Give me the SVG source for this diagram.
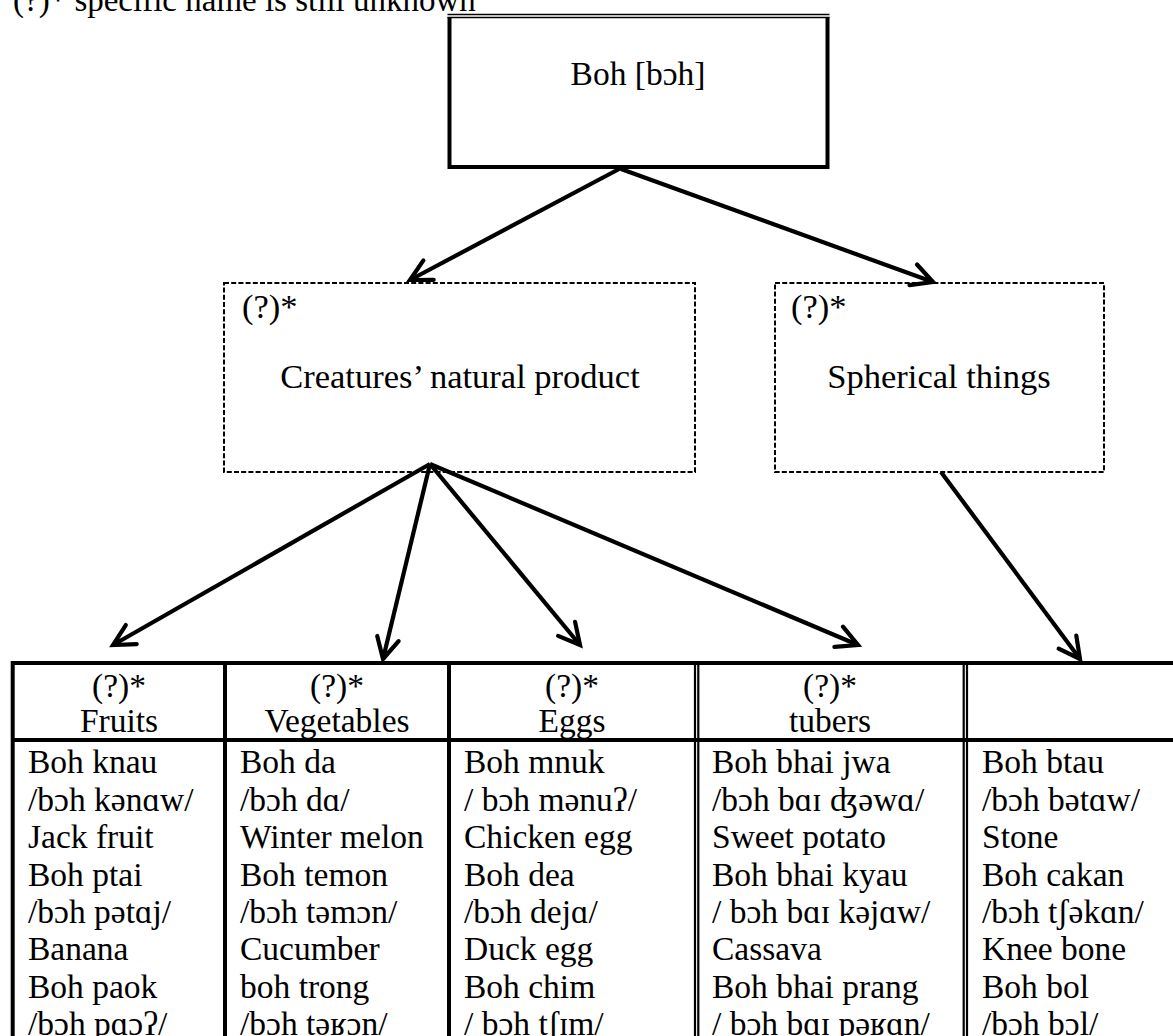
<svg xmlns="http://www.w3.org/2000/svg" width="1173" height="1036" viewBox="0 0 1173 1036">
<style>
  text { font-family: "Liberation Serif", "DejaVu Serif", serif; fill: #000; }
  .t { font-size: 33.5px; }
  .m { font-size: 34.5px; }
  .note { font-size: 33px; }
  .c { text-anchor: middle; }
  .dash { fill: #fff; stroke: #000; stroke-width: 2; stroke-dasharray: 5 2.2; }
  .thick { stroke: #000; stroke-width: 4; fill: none; }
  .thin { stroke: #000; stroke-width: 1.6; fill: none; }
  .dbl { stroke: #000; stroke-width: 2.2; fill: none; }
  .conn { stroke: #000; stroke-width: 4.2; fill: none; marker-end: url(#arr); }
</style>
<defs>
  <marker id="arr" markerUnits="userSpaceOnUse" orient="auto" overflow="visible" markerWidth="1" markerHeight="1" refX="0" refY="0">
    <path d="M-21,-11 L0,0 L-21,11" fill="none" stroke="#000" stroke-width="4.2" stroke-linecap="round" stroke-linejoin="miter"/>
  </marker>
</defs>
<rect width="1173" height="1036" fill="#fff"/>

<g id="note">
  <text class="note" x="13" y="10.5">(?)* specific name is still unknown</text>
</g>

<g id="node-boh">
  <line class="thin" x1="447.5" y1="14.5" x2="829.5" y2="14.5"/>
  <line class="thin" x1="447.5" y1="17.5" x2="829.5" y2="17.5"/>
  <path class="thick" d="M449.5,17 L449.5,167 L827.5,167 L827.5,17"/>
  <text class="t c" x="638" y="85">Boh [bɔh]</text>
</g>

<g id="node-creatures">
  <rect class="dash" x="224" y="283" width="471" height="189"/>
  <text class="m" x="242" y="318">(?)*</text>
  <text class="m c" x="460" y="388">Creatures’ natural product</text>
</g>

<g id="node-spherical">
  <rect class="dash" x="775" y="283" width="329" height="189"/>
  <text class="m" x="791" y="318">(?)*</text>
  <text class="m c" x="939" y="388">Spherical things</text>
</g>

<g id="table">
  <line class="thick" x1="11" y1="663" x2="1173" y2="663"/>
  <line class="thick" x1="11" y1="740" x2="1173" y2="740"/>
  <line class="thick" x1="12.7" y1="661" x2="12.7" y2="1036"/>
  <line class="thick" x1="225" y1="661" x2="225" y2="1036"/>
  <line class="thick" x1="449" y1="661" x2="449" y2="1036"/>
  <line class="dbl" x1="695" y1="661" x2="695" y2="1036"/>
  <line class="dbl" x1="698.3" y1="661" x2="698.3" y2="1036"/>
  <line class="dbl" x1="963.7" y1="661" x2="963.7" y2="1036"/>
  <line class="dbl" x1="967" y1="661" x2="967" y2="1036"/>
</g>

<g id="node-fruits">
  <text class="t c" x="119" y="697">(?)*</text>
  <text class="t c" x="119" y="732">Fruits</text>
  <text class="t" x="28" y="773">Boh knau</text>
  <text class="t" x="28" y="810.5">/bɔh kənɑw/</text>
  <text class="t" x="28" y="848">Jack fruit</text>
  <text class="t" x="28" y="885.5">Boh ptai</text>
  <text class="t" x="28" y="923">/bɔh pətɑj/</text>
  <text class="t" x="28" y="960">Banana</text>
  <text class="t" x="28" y="997.5">Boh paok</text>
  <text class="t" x="28" y="1035">/bɔh pɑɔʔ/</text>
</g>

<g id="node-vegetables">
  <text class="t c" x="337" y="697">(?)*</text>
  <text class="t c" x="337" y="732">Vegetables</text>
  <text class="t" x="240" y="773">Boh da</text>
  <text class="t" x="240" y="810.5">/bɔh dɑ/</text>
  <text class="t" x="240" y="848">Winter melon</text>
  <text class="t" x="240" y="885.5">Boh temon</text>
  <text class="t" x="240" y="923">/bɔh təmɔn/</text>
  <text class="t" x="240" y="960">Cucumber</text>
  <text class="t" x="240" y="997.5">boh trong</text>
  <text class="t" x="240" y="1035">/bɔh təʁɔn/</text>
</g>

<g id="node-eggs">
  <text class="t c" x="572" y="697">(?)*</text>
  <text class="t c" x="572" y="732">Eggs</text>
  <text class="t" x="464" y="773">Boh mnuk</text>
  <text class="t" x="464" y="810.5">/ bɔh mənuʔ/</text>
  <text class="t" x="464" y="848">Chicken egg</text>
  <text class="t" x="464" y="885.5">Boh dea</text>
  <text class="t" x="464" y="923">/bɔh dejɑ/</text>
  <text class="t" x="464" y="960">Duck egg</text>
  <text class="t" x="464" y="997.5">Boh chim</text>
  <text class="t" x="464" y="1035">/ bɔh tʃɪm/</text>
</g>

<g id="node-tubers">
  <text class="t c" x="830" y="697">(?)*</text>
  <text class="t c" x="830" y="732">tubers</text>
  <text class="t" x="712" y="773">Boh bhai jwa</text>
  <text class="t" x="712" y="810.5">/bɔh bɑɪ ʤəwɑ/</text>
  <text class="t" x="712" y="848">Sweet potato</text>
  <text class="t" x="712" y="885.5">Boh bhai kyau</text>
  <text class="t" x="712" y="923">/ bɔh bɑɪ kəjɑw/</text>
  <text class="t" x="712" y="960">Cassava</text>
  <text class="t" x="712" y="997.5">Boh bhai prang</text>
  <text class="t" x="712" y="1035">/ bɔh bɑɪ pəʁɑn/</text>
</g>

<g id="node-spherical-list">
  <text class="t" x="982" y="773">Boh btau</text>
  <text class="t" x="982" y="810.5">/bɔh bətɑw/</text>
  <text class="t" x="982" y="848">Stone</text>
  <text class="t" x="982" y="885.5">Boh cakan</text>
  <text class="t" x="982" y="923">/bɔh tʃəkɑn/</text>
  <text class="t" x="982" y="960">Knee bone</text>
  <text class="t" x="982" y="997.5">Boh bol</text>
  <text class="t" x="982" y="1035">/bɔh bɔl/</text>
</g>

<g id="connectors">
  <line class="conn" x1="621" y1="168" x2="410" y2="280"/>
  <line class="conn" x1="621" y1="169" x2="933" y2="282"/>
  <line class="conn" x1="430" y1="464" x2="113" y2="645"/>
  <line class="conn" x1="430" y1="464" x2="383" y2="659"/>
  <line class="conn" x1="430" y1="464" x2="580" y2="645"/>
  <line class="conn" x1="430" y1="464" x2="858" y2="645"/>
  <line class="conn" x1="941" y1="472" x2="1080" y2="659"/>
</g>
</svg>
